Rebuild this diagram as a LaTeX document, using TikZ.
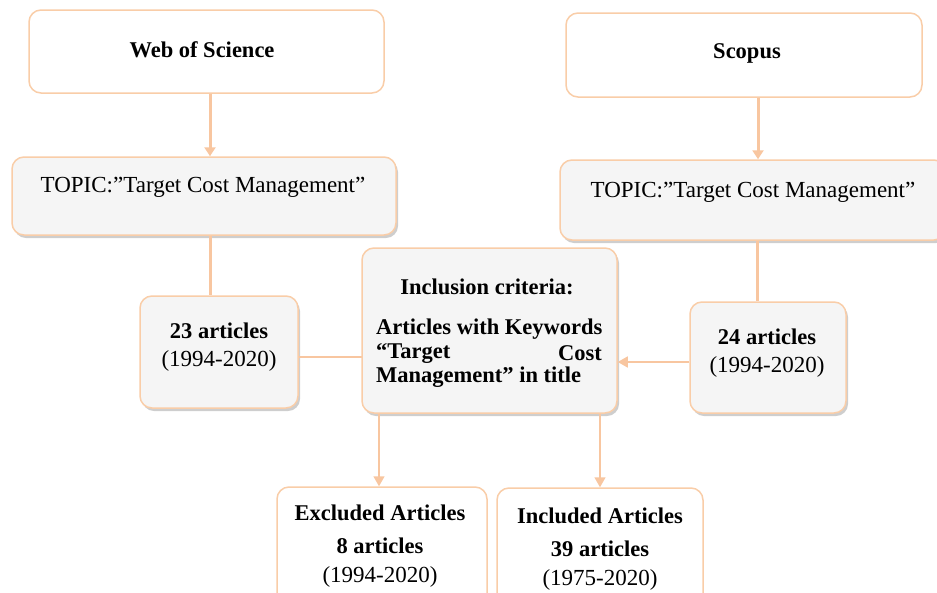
\documentclass[tikz,border=0pt]{standalone}
\usepackage{fontspec}
\setmainfont{Liberation Serif}
\usetikzlibrary{shadows,arrows.meta}
\definecolor{peach}{HTML}{F9CDA8}
\definecolor{arrowc}{HTML}{F8C6A0}
\definecolor{boxgray}{HTML}{F5F5F5}
\begin{document}
\begin{tikzpicture}[x=1pt,y=-1pt,
  box/.style={draw=peach, line width=1.5pt, rounded corners=12pt, fill=white, inner sep=0pt},
  sbox/.style={box, fill=boxgray, drop shadow={shadow xshift=2pt, shadow yshift=-3pt, opacity=0.35, fill=black!55}},
  txt/.style={inner sep=0pt, font=\fontsize{23}{27}\selectfont},
  btxt/.style={inner sep=0pt, font=\fontsize{22.5}{27}\selectfont\bfseries},
  bigline/.style={draw=arrowc, line width=3pt},
  bigarrow/.style={bigline, -{Triangle[width=11pt,length=9pt]}},
  smallline/.style={draw=arrowc, line width=1.5pt},
  smallarrow/.style={smallline, -{Triangle[width=11pt,length=10pt]}}]
\useasboundingbox (0,0) rectangle (937,592);
% boxes
\node[box, minimum width=355pt, minimum height=83pt] (wos) at (206.5,51.5) {};
\node[box, minimum width=356pt, minimum height=84pt] (scopus) at (744,55) {};
\node[sbox, minimum width=384pt, minimum height=78pt] (topicL) at (204,196) {};
\node[sbox, minimum width=386pt, minimum height=80pt] (topicR) at (753,200) {};
\node[sbox, minimum width=158pt, minimum height=112pt] (a23) at (219,352) {};
\node[sbox, minimum width=156pt, minimum height=111pt] (a24) at (768,357.5) {};
% connectors behind inclusion box
\draw[bigarrow] (wos.south -| 210,0) -- (topicL.north -| 210,0);
\draw[bigarrow] (scopus.south -| 758,0) -- (topicR.north -| 758,0);
\draw[bigline] (topicL.south -| 210,0) -- (a23.north -| 210,0);
\draw[bigline] (topicR.south -| 757,0) -- (a24.north -| 757,0);
\draw[smallline] (a23.east |- 0,357) -- (365,357) coordinate (inclL);
\node[sbox, minimum width=255pt, minimum height=165pt] (incl) at (489.5,330.5) {};
\draw[smallarrow] (a24.west |- 0,362) -- (incl.east |- 0,362);
\node[box, minimum width=210pt, minimum height=133pt] (excl) at (382,553.5) {};
\node[box, minimum width=206pt, minimum height=132pt] (incd) at (600,554) {};
\draw[smallarrow] (incl.south -| 379,0) -- (excl.north -| 379,0);
\draw[smallarrow] (incl.south -| 600,0) -- (incd.north -| 600,0);
% texts
\node[btxt] (t1) at (202,50) {Web of Science};
\node[btxt] (t2) at (747,53) {Scopus};
\node[txt] (t3) at (203,187) {TOPIC:”Target Cost Management”};
\node[txt] (t4) at (753,192) {TOPIC:”Target Cost Management”};
\node[btxt] (t5) at (219,331) {23 articles};
\node[txt] (t6) at (219,361) {(1994-2020)};
\node[btxt] (t7) at (767,337) {24 articles};
\node[txt] (t8) at (767,367) {(1994-2020)};
\node[btxt] (t9) at (487,287) {Inclusion criteria:};
\node[btxt, anchor=west] (t10) at (376,329) {Articles with Keywords};
\node[btxt, anchor=west] (t11) at (376,353) {“Target};
\node[btxt, anchor=east] (t12) at (602,353) {Cost};
\node[btxt, anchor=west] (t13) at (376,377) {Management” in title};
\node[btxt] (t14) at (380,513) {Excluded Articles};
\node[btxt] (t15) at (380,546) {8 articles};
\node[txt] (t16) at (380,577) {(1994-2020)};
\node[btxt] (t17) at (600,516) {Included Articles};
\node[btxt] (t18) at (600,549) {39 articles};
\node[txt] (t19) at (600,580) {(1975-2020)};
\end{tikzpicture}
\end{document}
